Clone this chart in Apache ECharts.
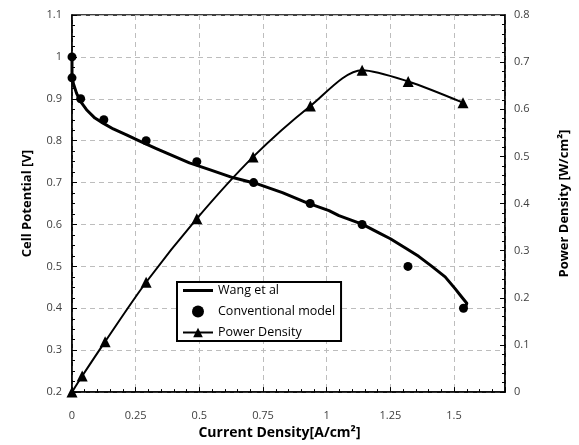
<!DOCTYPE html>
<html>
<head>
<meta charset="utf-8">
<script src="https://cdn.jsdelivr.net/npm/echarts@6/dist/echarts.min.js"></script>
<style>
html,body{margin:0;padding:0;background:#fff;}
#chart{width:579px;height:445px;}
</style>
</head>
<body>
<div id="chart"></div>
<script>
// Current density [A/cm2] and cell potential [V] — Wang et al curve
const xWang = [0, 0, 0.005, 0.018, 0.034, 0.057, 0.09, 0.122, 0.162, 0.214, 0.266, 0.331, 0.461, 0.54, 0.631, 0.722, 0.826, 0.918, 1.009, 1.048, 1.139, 1.205, 1.25, 1.309, 1.361, 1.413, 1.465, 1.504, 1.53, 1.55, 1.544];
const vWang = [1.0, 0.95, 0.937, 0.913, 0.893, 0.874, 0.854, 0.842, 0.828, 0.814, 0.799, 0.781, 0.747, 0.731, 0.712, 0.698, 0.676, 0.653, 0.633, 0.621, 0.601, 0.58, 0.566, 0.544, 0.524, 0.50, 0.475, 0.447, 0.427, 0.412, 0.40];
// Conventional model points
const xConv = [0, 0, 0.034, 0.125, 0.291, 0.49, 0.713, 0.935, 1.139, 1.319, 1.537];
const vConv = [1.0, 0.95, 0.9, 0.85, 0.8, 0.75, 0.7, 0.65, 0.6, 0.5, 0.4];
// Power density [W/cm2]
const xPower = [0, 0.04, 0.13, 0.291, 0.49, 0.711, 0.936, 1.139, 1.32, 1.535];
const pPower = [0, 0.034, 0.107, 0.233, 0.368, 0.499, 0.607, 0.683, 0.659, 0.614];

const seriesNames = ['Wang et al', 'Conventional model', 'Power Density'];
const xTitle = 'Current Density[A/cm²]';
const yLeftTitle = 'Cell Potential [V]';
const yRightTitle = 'Power Density [W/cm²]';

const zip = (a, b) => a.map((v, i) => [v, b[i]]);
const FONT = '"Open Sans"';
const labelStyle = {fontFamily: FONT, fontSize: 11, color: '#404040'};
const nameStyle = {fontFamily: FONT, fontSize: 13, fontWeight: 'bold', color: '#000'};

const chart = echarts.init(document.getElementById('chart'), null, {renderer: 'canvas'});
chart.setOption({
  backgroundColor: '#fff',
  animation: false,
  grid: {left: 72, right: 73, top: 15, bottom: 51, show: true, borderColor: '#000', borderWidth: 1.5, backgroundColor: 'transparent'},
  legend: {
    orient: 'vertical', left: 177, top: 282,
    backgroundColor: '#fff', borderColor: '#000', borderWidth: 2,
    padding: [2, 6, 2, 5], itemGap: 8, itemWidth: 30, itemHeight: 12,
    textStyle: {fontFamily: FONT, fontSize: 12.5, color: '#000'},
    data: [
      {name: seriesNames[0], icon: 'path://M0,0 H30 V3 H0 Z'},
      {name: seriesNames[1]},
      {name: seriesNames[2]}
    ]
  },
  xAxis: {
    type: 'value', min: 0, max: 1.7, interval: 0.25,
    name: xTitle, nameLocation: 'middle', nameGap: 31,
    nameTextStyle: Object.assign({}, nameStyle, {fontSize: 14, padding: [0, 18, 0, 0]}),
    axisLine: {lineStyle: {color: '#000', width: 1.5}},
    axisTick: {inside: true, length: 5, lineStyle: {color: '#000'}},
    minorTick: {show: true, splitNumber: 5, length: 3, lineStyle: {color: '#000'}},
    axisLabel: Object.assign({margin: 18, showMaxLabel: false}, labelStyle),
    splitLine: {show: true, lineStyle: {color: '#bdbdbd', type: [5, 4], width: 1}}
  },
  yAxis: [{
    type: 'value', min: 0.2, max: 1.1, interval: 0.1, position: 'left',
    name: yLeftTitle, nameLocation: 'middle', nameRotate: 90, nameGap: 38, nameTextStyle: nameStyle,
    axisLine: {show: true, lineStyle: {color: '#000', width: 1.5}},
    axisTick: {show: true, inside: true, length: 5, lineStyle: {color: '#000'}},
    minorTick: {show: true, splitNumber: 4, length: 3, lineStyle: {color: '#000'}},
    axisLabel: Object.assign({margin: 10}, labelStyle),
    splitLine: {show: true, lineStyle: {color: '#bdbdbd', type: [5, 4], width: 1}}
  }, {
    type: 'value', min: 0, max: 0.8, interval: 0.1, position: 'right',
    name: yRightTitle, nameLocation: 'middle', nameRotate: 90, nameGap: 53, nameTextStyle: nameStyle,
    axisLine: {show: true, lineStyle: {color: '#000', width: 1.5}},
    axisTick: {show: true, inside: true, length: 5, lineStyle: {color: '#000'}},
    minorTick: {show: true, splitNumber: 5, length: 3, lineStyle: {color: '#000'}},
    axisLabel: Object.assign({margin: 9}, labelStyle),
    splitLine: {show: false}
  }],
  series: [{
    name: seriesNames[0], type: 'line', yAxisIndex: 0,
    data: zip(xWang, vWang), symbol: 'none', smooth: false,
    lineStyle: {color: '#000', width: 3, join: 'round', cap: 'round'},
    itemStyle: {color: '#000'}, z: 3
  }, {
    name: seriesNames[1], type: 'scatter', yAxisIndex: 0,
    data: zip(xConv, vConv), symbol: 'circle', symbolSize: 9,
    itemStyle: {color: '#000', opacity: 1}, z: 5
  }, {
    name: seriesNames[2], type: 'line', yAxisIndex: 1,
    data: zip(xPower, pPower), symbol: 'triangle', symbolSize: 11, showSymbol: true,
    smooth: 0.3,
    lineStyle: {color: '#000', width: 2},
    itemStyle: {color: '#000'}, z: 4
  }]
});
</script>
</body>
</html>
